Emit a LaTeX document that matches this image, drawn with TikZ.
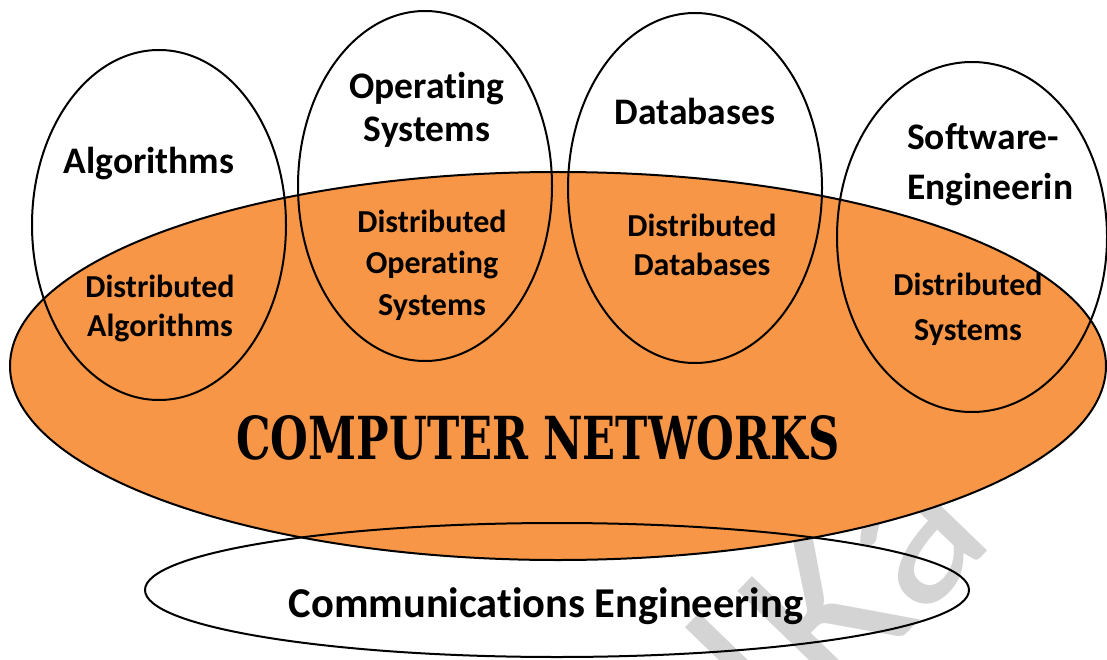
\documentclass[tikz,border=0pt]{standalone}
\usepackage{fontspec}
\setmainfont{Carlito}[Ligatures=NoCommon]
\newfontfamily\titlefont{DejaVu Serif}
\newfontfamily\wmfont{Carlito}
\usetikzlibrary{shapes.geometric}
\definecolor{cnorange}{HTML}{F79646}
\definecolor{wmgrey}{HTML}{D4D4D4}
\tikzset{
  ring/.style={draw=black, line width=2pt, ellipse, inner sep=0pt},
  lbl/.style={font=\bfseries\fontsize{32}{40}\selectfont, align=center, inner sep=0pt, text=black},
  toplbl/.style={lbl, font=\bfseries\fontsize{37.5}{43}\selectfont},
}
\begin{document}
\begin{tikzpicture}[x=1pt,y=-1pt]
\useasboundingbox (0,0) rectangle (1107,660);
\clip (0,0) rectangle (1107,660);
% watermark
\node[rotate=46, text=wmgrey, font=\wmfont\fontsize{235}{235}\selectfont, inner sep=0pt] (wm) at (812,616) {d\kern12pt Ka};
% big orange ellipse
\node[ring, fill=cnorange, minimum width=1096pt, minimum height=388pt] (cn) at (558,366) {};
% small ellipses
\node[ring, minimum width=254pt, minimum height=350pt] (alg) at (159,225) {};
\node[ring, minimum width=254pt, minimum height=350pt] (os) at (425,186) {};
\node[ring, minimum width=254pt, minimum height=350pt] (db) at (695,188) {};
\node[ring, minimum width=270pt, minimum height=350pt] (se) at (972,237) {};
% bottom ellipse
\node[ring, minimum width=824pt, minimum height=134pt] (ce) at (557,590) {};
% labels
\node[toplbl] (talg) at (149,164) {Algorithms};
\node[toplbl, font=\bfseries\fontsize{37.5}{43}\selectfont] (tos) at (427,110) {Operating\\Systems};
\node[toplbl] (tdb) at (695,111) {Databases};
\node[toplbl, align=left, anchor=west, font=\bfseries\fontsize{37.5}{50}\selectfont] (tse) at (907,165) {Software-\\Engineerin};
\node[lbl, font=\bfseries\fontsize{32}{39}\selectfont] (tdalg) at (160,308) {Distributed\\Algorithms};
\node[lbl, font=\bfseries\fontsize{32}{41.5}\selectfont] (tdos) at (432,265) {Distributed\\Operating\\Systems};
\node[lbl, font=\bfseries\fontsize{32}{39}\selectfont] (tddb) at (702,245) {Distributed\\Databases};
\node[lbl, font=\bfseries\fontsize{32}{45}\selectfont] (tdse) at (968,309) {Distributed\\Systems};
\node[inner sep=0pt] (tcn) at (538,438) {\resizebox{603pt}{44pt}{\titlefont\bfseries COMPUTER NETWORKS}};
\node[lbl, font=\bfseries\fontsize{42.5}{44}\selectfont] (tce) at (546,606) {Communications Engineering};
\end{tikzpicture}
\end{document}
